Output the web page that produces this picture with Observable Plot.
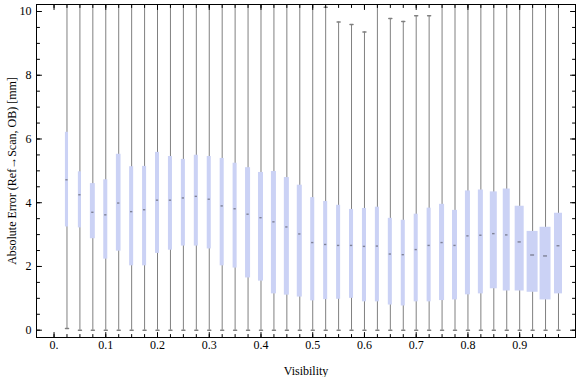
<!DOCTYPE html>
<html><head><meta charset="utf-8">
<script src="https://cdn.jsdelivr.net/npm/d3@7"></script>
<script src="https://cdn.jsdelivr.net/npm/@observablehq/plot@0.6"></script>
<style>body{margin:0;background:#fff}</style>
</head><body><div id="chart"></div>
<script>
// ---- data ----
const visibility = [0.025,0.05,0.075,0.1,0.125,0.15,0.175,0.2,0.225,0.25,0.275,0.3,0.325,0.35,0.375,0.4,0.425,0.45,0.475,0.5,0.525,0.55,0.575,0.6,0.625,0.65,0.675,0.7,0.725,0.75,0.775,0.8,0.825,0.85,0.875,0.9,0.925,0.95,0.975];
const q1 = [3.24,3.21,2.87,2.23,2.48,2.02,2.02,2.41,2.51,2.64,2.64,2.55,2.02,1.95,1.64,1.54,1.14,1.10,1.04,0.92,0.96,0.97,1.00,0.89,0.89,0.79,0.76,0.89,0.89,0.93,0.95,1.11,1.14,1.30,1.23,1.23,1.19,0.95,1.14];
const median = [4.72,4.25,3.70,3.62,3.99,3.72,3.78,4.08,4.08,4.15,4.20,4.11,3.90,3.81,3.64,3.53,3.40,3.24,3.02,2.75,2.69,2.66,2.66,2.63,2.64,2.39,2.37,2.53,2.66,2.75,2.66,2.96,2.98,3.03,2.99,2.77,2.36,2.33,2.65];
const q3 = [6.21,4.97,4.60,4.72,5.52,5.13,5.14,5.58,5.45,5.36,5.49,5.45,5.39,5.24,5.10,4.95,4.98,4.79,4.55,4.16,4.04,3.92,3.79,3.82,3.86,3.51,3.45,3.64,3.83,3.95,3.76,4.37,4.40,4.34,4.43,3.89,3.10,3.23,3.67];
const whiskerLow = [0.05,0,0,0,0,0,0,0,0,0,0,0,0,0,0,0,0,0,0,0,0,0,0,0,0,0,0,0,0,0,0,0,0,0,0,0,0,0,0];
// values above the plot range (> 10.2) are estimates
const whiskerHigh = [11,11,11,11,11,11,11,11,11,11,11,11,11,11,11,11,11,11,11,11,10.13,9.67,9.59,9.36,11,9.78,9.69,9.87,9.87,11,11,11,11,11,11,11,11,11,11];
// relative box widths (in Visibility units)
const boxWidth = [0.006,0.006,0.0095,0.0078,0.009,0.0078,0.0078,0.0078,0.0078,0.0078,0.0078,0.0078,0.0078,0.0078,0.0097,0.0097,0.0097,0.0097,0.0097,0.0078,0.0078,0.0078,0.0078,0.0078,0.0078,0.0078,0.0078,0.0078,0.0078,0.0097,0.0097,0.0097,0.0097,0.0135,0.0135,0.0174,0.0212,0.0212,0.0155];

const xTickValues = [0,0.1,0.2,0.3,0.4,0.5,0.6,0.7,0.8,0.9];
const xTickLabels = ["0.","0.1","0.2","0.3","0.4","0.5","0.6","0.7","0.8","0.9"];
const yTickValues = [0,2,4,6,8,10];
const yTickLabels = ["0","2","4","6","8","10"];
const xLabel = "Visibility";
const yLabel = "Absolute Error (Ref\u2192Scan, OB) [mm]";

// ---- build ----
const rows = visibility.map((v, i) => ({
  v, q1: q1[i], med: median[i], q3: q3[i], lo: whiskerLow[i], hi: whiskerHigh[i], w: boxWidth[i]
}));
const xMinor = [0, ...visibility];
const yMinor = d3.range(0, 10.001, 0.5);
const xLab = xTickValues.map((v, i) => ({v, t: xTickLabels[i]}));
const yLab = yTickValues.map((v, i) => ({v, t: yTickLabels[i]}));

const tickShape = {draw(ctx, l) { ctx.moveTo(0, 0); ctx.lineTo(0, -l); }};
const font = "'Liberation Serif', 'Times New Roman', serif";
const wcol = "#808080";

function ticksX(values, len, anchor, rot) {
  return Plot.vector(values, {x: d => d, frameAnchor: anchor, length: len, rotate: rot, anchor: "start", shape: tickShape, stroke: "black", strokeWidth: 1});
}
function ticksY(values, len, anchor, rot) {
  return Plot.vector(values, {y: d => d, frameAnchor: anchor, length: len, rotate: rot, anchor: "start", shape: tickShape, stroke: "black", strokeWidth: 1});
}

const chart = Plot.plot({
  width: 576,
  height: 377,
  marginLeft: 36,
  marginRight: 1,
  marginTop: 4,
  marginBottom: 40,
  x: {domain: [-0.0339, 1.0079], axis: null},
  y: {domain: [-0.229, 10.22], axis: null},
  style: {fontFamily: font, fontSize: "12px", background: "white", color: "black"},
  marks: [
    Plot.ruleX(rows, {x: "v", y1: "lo", y2: "hi", stroke: wcol, strokeWidth: 1, clip: true}),
    Plot.vector(rows, {x: "v", y: "lo", length: 3, rotate: 90, anchor: "middle", shape: tickShape, stroke: wcol, clip: true}),
    Plot.vector(rows.filter(d => d.hi < 10.2), {x: "v", y: "hi", length: 3, rotate: 90, anchor: "middle", shape: tickShape, stroke: wcol, clip: true}),
    Plot.rect(rows, {x1: d => d.v - d.w / 2, x2: d => d.v + d.w / 2, y1: "q1", y2: "q3", fill: "#cbd2f5"}),
    Plot.ruleY(rows, {y: "med", x1: d => d.v - Math.max(d.w * 0.18, 0.0022), x2: d => d.v + Math.max(d.w * 0.18, 0.0022), stroke: "#7f8296", strokeWidth: 1.4}),
    Plot.frame({stroke: "black", strokeWidth: 1}),
    ticksX(xMinor, 3, "bottom", 0),
    ticksX(xTickValues, 5, "bottom", 0),
    ticksX(xMinor, 3, "top", 180),
    ticksX(xTickValues, 5, "top", 180),
    ticksY(yMinor, 3, "left", 90),
    ticksY(yTickValues, 5, "left", 90),
    ticksY(yMinor, 3, "right", -90),
    ticksY(yTickValues, 5, "right", -90),
    Plot.text(xLab, {x: "v", text: "t", frameAnchor: "bottom", dy: 11, fontSize: 12, fill: "black"}),
    Plot.text(yLab, {y: "v", text: "t", frameAnchor: "left", dx: -5, textAnchor: "end", fontSize: 12, fill: "black"}),
    Plot.text([xLabel], {text: d => d, frameAnchor: "bottom", dy: 34, lineAnchor: "middle", textAnchor: "middle", fontSize: 12, fill: "black"}),
    Plot.text([yLabel], {text: d => d, frameAnchor: "left", dx: -24, rotate: -90, textAnchor: "middle", lineAnchor: "middle", fontSize: 12, fill: "black"})
  ]
});
document.getElementById("chart").appendChild(chart);
</script>
</body></html>
